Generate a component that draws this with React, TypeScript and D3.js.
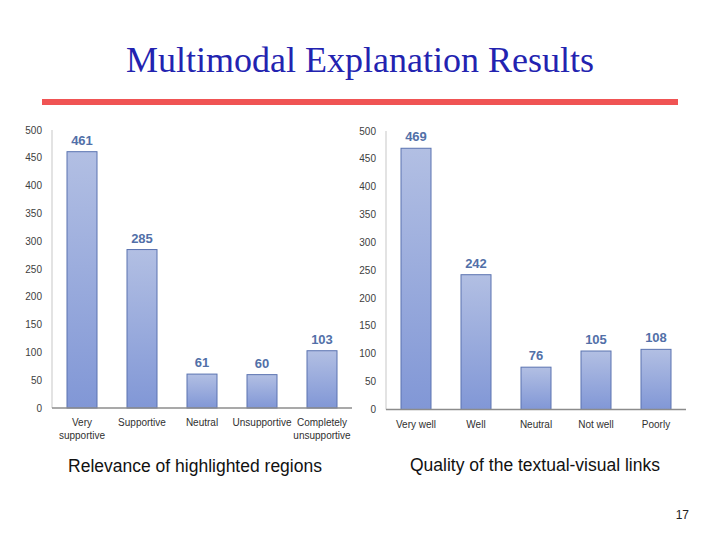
import React, { useRef, useEffect } from "react";
import * as d3 from "d3";

const relevanceCats = ["Very\nsupportive", "Supportive", "Neutral", "Unsupportive", "Completely\nunsupportive"];
const relevanceValues = [461, 285, 61, 60, 103];
const linkCats = ["Very well", "Well", "Neutral", "Not well", "Poorly"];
const linkValues = [469, 242, 76, 105, 108];
const yTicks = [0, 50, 100, 150, 200, 250, 300, 350, 400, 450, 500];

interface PanelOpts {
  cats: string[];
  values: number[];
  x0: number;
  x1: number;
  yTop: number;
  yBottom: number;
  caption: string;
  captionX: number;
  captionY: number;
}

const App: React.FC = () => {
  const svgRef = useRef<SVGSVGElement | null>(null);

  const drawPanel = (svg: d3.Selection<SVGSVGElement, unknown, null, undefined>, o: PanelOpts) => {
    const x = d3.scaleBand().domain(o.cats).range([o.x0, o.x1]).paddingInner(0.5).paddingOuter(0.25);
    const y = d3.scaleLinear().domain([0, 500]).range([o.yBottom, o.yTop]);
    const g = svg.append("g");

    // y軸の線
    g.append("line")
      .attr("x1", o.x0).attr("x2", o.x0)
      .attr("y1", o.yTop).attr("y2", o.yBottom)
      .attr("stroke", "#d0d0d0").attr("stroke-width", 1.2);

    // 目盛りラベル
    g.selectAll("text.tick")
      .data(yTicks)
      .enter()
      .append("text")
      .attr("x", o.x0 - 10)
      .attr("y", (d) => y(d) + 3.5)
      .attr("text-anchor", "end")
      .style("font-family", "'Liberation Sans Narrow', 'Liberation Sans', sans-serif")
      .style("font-size", "10px")
      .attr("fill", "#404040")
      .text((d) => d);

    // バー
    g.selectAll("rect")
      .data(o.values)
      .enter()
      .append("rect")
      .attr("x", (_d, i) => x(o.cats[i]) as number)
      .attr("y", (d) => y(d))
      .attr("width", x.bandwidth())
      .attr("height", (d) => o.yBottom - y(d))
      .attr("fill", "url(#barGrad)")
      .attr("stroke", "#5a73b0")
      .attr("stroke-width", 1);

    // x軸の線
    g.append("line")
      .attr("x1", o.x0).attr("x2", o.x1)
      .attr("y1", o.yBottom).attr("y2", o.yBottom)
      .attr("stroke", "#8c8c8c").attr("stroke-width", 1.6);

    // 値ラベル
    g.selectAll("text.val")
      .data(o.values)
      .enter()
      .append("text")
      .attr("x", (_d, i) => (x(o.cats[i]) as number) + x.bandwidth() / 2)
      .attr("y", (d) => y(d) - 7)
      .attr("text-anchor", "middle")
      .style("font-family", "'Liberation Sans', sans-serif")
      .style("font-weight", "bold")
      .style("font-size", "13px")
      .attr("fill", "#5270a8")
      .text((d) => d);

    // カテゴリラベル
    const cat = g.selectAll("text.cat")
      .data(o.cats)
      .enter()
      .append("text")
      .attr("text-anchor", "middle")
      .style("font-family", "'Liberation Sans Narrow', 'Liberation Sans', sans-serif")
      .style("font-size", "10px")
      .attr("fill", "#303030");
    cat.each(function (d) {
      const cx = (x(d) as number) + x.bandwidth() / 2;
      d.split("\n").forEach((line, k) => {
        d3.select(this)
          .append("tspan")
          .attr("x", cx)
          .attr("y", o.yBottom + 18 + k * 13)
          .text(line);
      });
    });

    svg.append("text")
      .attr("x", o.captionX)
      .attr("y", o.captionY)
      .attr("text-anchor", "middle")
      .style("font-family", "'Liberation Sans', Arial, sans-serif")
      .style("font-size", "17.5px")
      .attr("fill", "#111")
      .text(o.caption);
  };

  const drawChart = () => {
    const svg = d3.select(svgRef.current!);
    svg.selectAll("*").remove();

    const grad = svg.append("defs").append("linearGradient")
      .attr("id", "barGrad").attr("x1", 0).attr("y1", 0).attr("x2", 0).attr("y2", 1);
    grad.append("stop").attr("offset", "0%").attr("stop-color", "#b2bfe3");
    grad.append("stop").attr("offset", "100%").attr("stop-color", "#8197d6");

    svg.append("text")
      .attr("x", 360).attr("y", 72)
      .attr("text-anchor", "middle")
      .style("font-family", "'Liberation Serif', 'Times New Roman', serif")
      .style("font-size", "36px")
      .attr("fill", "#2323b0")
      .text("Multimodal Explanation Results");

    svg.append("rect")
      .attr("x", 42).attr("y", 99).attr("width", 636).attr("height", 6)
      .attr("fill", "#f05454");

    drawPanel(svg, {
      cats: relevanceCats, values: relevanceValues,
      x0: 52, x1: 352, yTop: 130, yBottom: 408,
      caption: "Relevance of highlighted regions", captionX: 195, captionY: 472,
    });
    drawPanel(svg, {
      cats: linkCats, values: linkValues,
      x0: 386, x1: 686, yTop: 131, yBottom: 409.5,
      caption: "Quality of the textual-visual links", captionX: 535, captionY: 471,
    });

    svg.append("text")
      .attr("x", 689).attr("y", 519)
      .attr("text-anchor", "end")
      .style("font-family", "'Liberation Sans', Arial, sans-serif")
      .style("font-size", "12px")
      .attr("fill", "#222")
      .text("17");
  };

  useEffect(() => {
    drawChart();
  }, []);

  return (
    <svg
      ref={svgRef}
      width={720}
      height={540}
      style={{ position: "absolute", left: 0, top: 0, background: "#fff" }}
    ></svg>
  );
};

export default App;
